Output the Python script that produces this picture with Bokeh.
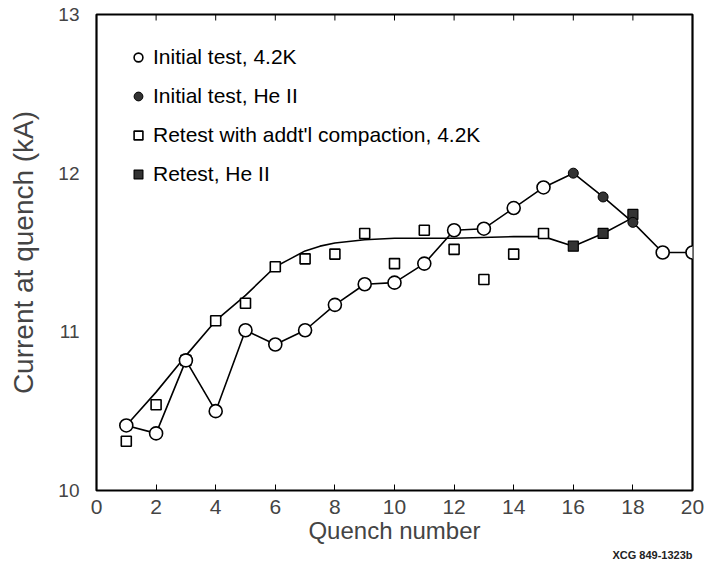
from bokeh.plotting import figure
from bokeh.models import Range1d, FixedTicker, Legend, LegendItem, Title
from bokeh.embed import file_html
from bokeh.resources import INLINE
import math

# ---- data ----
init_x = [1, 2, 3, 4, 5, 6, 7, 8, 9, 10, 11, 12, 13, 14, 15, 19, 20]
init_y = [10.41, 10.36, 10.82, 10.50, 11.01, 10.92, 11.01, 11.17, 11.30, 11.31,
          11.43, 11.64, 11.65, 11.78, 11.91, 11.50, 11.50]
init_heii_x = [16, 17, 18]
init_heii_y = [12.00, 11.85, 11.69]

retest_x = [1, 2, 3, 4, 5, 6, 7, 8, 9, 10, 11, 12, 13, 14, 15]
retest_y = [10.31, 10.54, 10.82, 11.07, 11.18, 11.41, 11.46, 11.49, 11.62, 11.43,
            11.64, 11.52, 11.33, 11.49, 11.62]
retest_heii_x = [16, 17, 18]
retest_heii_y = [11.54, 11.62, 11.74]

# curve drawn through the retest data
fit_x = [1, 2, 3, 4, 5, 6, 6.5, 7, 7.5, 8, 9, 10, 12, 14, 15, 16, 17, 18]
fit_y = [10.41, 10.62, 10.85, 11.07, 11.23, 11.41, 11.46, 11.51, 11.54, 11.56,
         11.58, 11.59, 11.59, 11.60, 11.60, 11.54, 11.62, 11.72]

x_ticks = [0, 2, 4, 6, 8, 10, 12, 14, 16, 18, 20]
y_ticks = [10, 11, 12, 13]

legend_labels = ["Initial test, 4.2K", "Initial test, He II",
                 "Retest with addt'l compaction, 4.2K", "Retest, He II"]
code_text = "XCG 849-1323b"

FONT = "Liberation Sans"
DARK = "#333333"
X_MIN, X_MAX = x_ticks[0], x_ticks[-1]
Y_MIN, Y_MAX = y_ticks[0], y_ticks[-1]

p = figure(width=712, height=562, x_range=Range1d(X_MIN, X_MAX), y_range=Range1d(Y_MIN, Y_MAX),
           output_backend="svg", toolbar_location=None,
           min_border_left=96, min_border_right=20, min_border_top=14, min_border_bottom=72)
p.grid.visible = False
p.outline_line_color = "black"
p.outline_line_width = 2.2
p.background_fill_color = "white"

# initial-test line through all points in quench order
all_init = sorted(list(zip(init_x, init_y)) + list(zip(init_heii_x, init_heii_y)))
p.line([a for a, b in all_init], [b for a, b in all_init], line_color="black", line_width=1.6)
p.line(fit_x, fit_y, line_color="black", line_width=1.6)

# tick marks along the top edge (half of each dash lies inside the frame)
top_ticks = x_ticks[1:-1]
p.scatter(top_ticks, [Y_MAX] * len(top_ticks), marker="dash", angle=math.pi / 2, size=12,
          line_color="black", line_width=1)

r_sq = p.scatter(retest_x, retest_y, marker="square", size=10, fill_color="white",
                 line_color="black", line_width=1.6)
r_sqf = p.scatter(retest_heii_x, retest_heii_y, marker="square", size=10, fill_color=DARK,
                  line_color="black", line_width=1.2)
r_c = p.scatter(init_x, init_y, marker="circle", size=13, fill_color="white",
                line_color="black", line_width=1.6)
r_cf = p.scatter(init_heii_x, init_heii_y, marker="circle", size=10, fill_color=DARK,
                 line_color="black", line_width=1.0)

legend = Legend(items=[LegendItem(label=legend_labels[0], renderers=[r_c]),
                       LegendItem(label=legend_labels[1], renderers=[r_cf]),
                       LegendItem(label=legend_labels[2], renderers=[r_sq]),
                       LegendItem(label=legend_labels[3], renderers=[r_sqf])],
                location="top_left", border_line_color=None, background_fill_alpha=0,
                padding=0, margin=31, spacing=15, glyph_width=22, glyph_height=22,
                label_height=22, label_standoff=4,
                label_text_font=FONT, label_text_font_size="21px", label_text_color="black")
p.add_layout(legend)

# axes
xa = p.xaxis[0]
xa.ticker = FixedTicker(ticks=x_ticks)
xa.axis_line_color = None
xa.major_tick_in = 6
xa.major_tick_out = 0
xa.major_tick_line_width = 1
xa.minor_tick_line_color = None
xa.major_label_text_font = FONT
xa.major_label_text_font_size = "21px"
xa.major_label_standoff = 9
xa.axis_label = "Quench number"
xa.axis_label_text_font = FONT
xa.axis_label_text_font_size = "24px"
xa.axis_label_text_font_style = "normal"
xa.axis_label_standoff = 0

ya = p.yaxis[0]
ya.ticker = FixedTicker(ticks=y_ticks)
ya.axis_line_color = None
ya.major_tick_in = 0
ya.major_tick_out = 0
ya.minor_tick_line_color = None
ya.major_label_text_font = FONT
ya.major_label_text_font_size = "19px"
ya.major_label_standoff = 17
ya.axis_label = "Current at quench (kA)"
ya.axis_label_text_font = FONT
ya.axis_label_text_font_size = "28px"
ya.axis_label_text_font_style = "normal"
ya.axis_label_standoff = 16

p.add_layout(Title(text=code_text, align="right", text_font=FONT, text_font_size="11px",
                   text_font_style="bold", text_color="#222222", standoff=0), "below")

open("out.html", "w").write(file_html(p, INLINE))
